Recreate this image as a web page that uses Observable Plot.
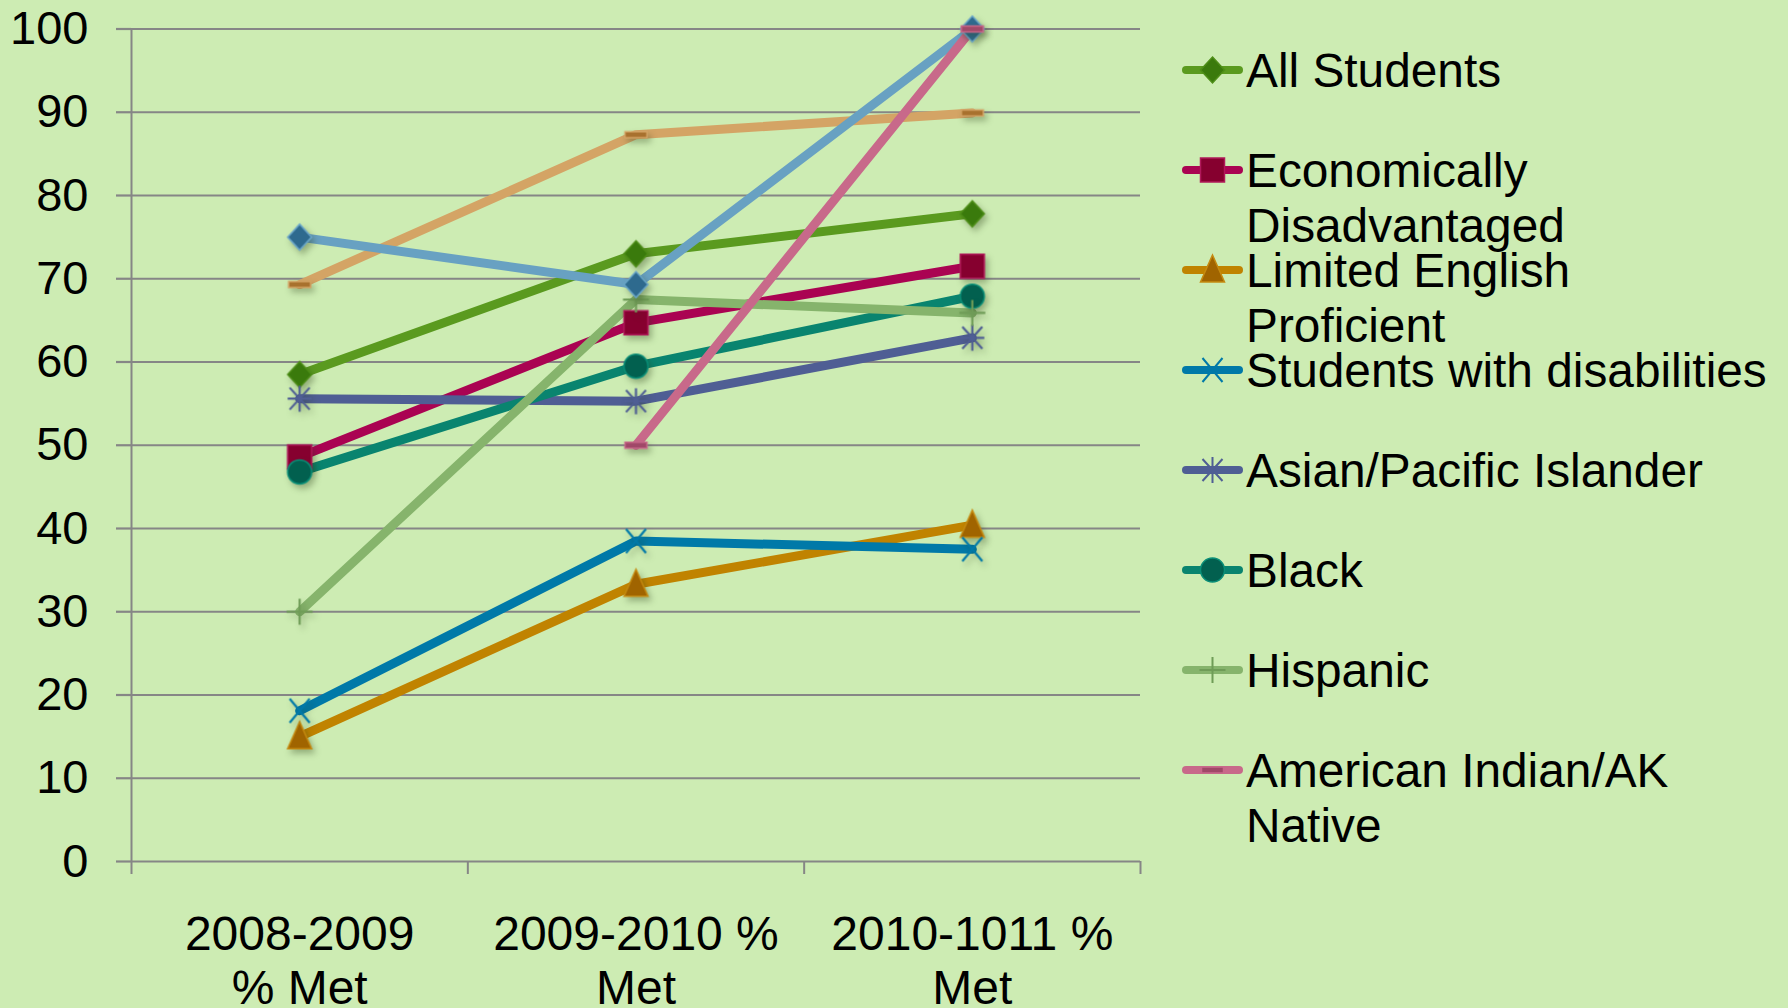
<!DOCTYPE html>
<html>
<head>
<meta charset="utf-8">
<script src="https://cdn.jsdelivr.net/npm/d3@7"></script>
<script src="https://cdn.jsdelivr.net/npm/@observablehq/plot@0.6"></script>
<style>
  html, body { margin: 0; padding: 0; background: #cdecb3; }
  #wrap { position: relative; width: 1788px; height: 1008px; background: #cdecb3; overflow: hidden;
          font-family: "Liberation Sans", Arial, sans-serif; color: #000; }
  #wrap svg.plot { position: absolute; left: 0; top: 0; }
  .lg-icon { position: absolute; }
  .lg-text { position: absolute; font-size: 47.8px; line-height: 55px; width: 528px; white-space: normal; }
</style>
</head>
<body>
<div id="wrap"></div>
<script>
// ---------------- data ----------------
const categories = ["2008-2009 % Met", "2009-2010 % Met", "2010-1011 % Met"];
const tickLabels = ["2008-2009\n% Met", "2009-2010 %\nMet", "2010-1011 %\nMet"];
const yTicks = [0, 10, 20, 30, 40, 50, 60, 70, 80, 90, 100];

const seriesNames = [
  "All Students",
  "Economically Disadvantaged",
  "Limited English Proficient",
  "Students with disabilities",
  "Asian/Pacific Islander",
  "Black",
  "Hispanic",
  "American Indian/AK Native"
];
const allStudents    = [58.5, 73.0, 77.8];
const econDisadv     = [48.6, 64.7, 71.5];
const limitedEnglish = [15.0, 33.3, 40.4];
const disabilities   = [18.1, 38.5, 37.5];
const asianPI        = [55.6, 55.3, 62.9];
const black          = [46.8, 59.5, 67.9];
const hispanic       = [30.0, 67.5, 65.9];
const amIndian       = [null, 50.0, 100.0];
// two further series whose legend entries are cut off in the original
const unlabeledBlue  = [75.0, 69.3, 100.0];
const unlabeledTan   = [69.3, 87.3, 89.9];

// ---------------- styles ----------------
const gridColor = "#868686";
const lineColors   = ["#5a9a1f", "#aa0352", "#c08300", "#0079a8", "#4f5e94", "#09846f", "#86b46c", "#c8698a", "#68a1c2", "#d4a465"];
const markerFills  = ["#3a7a0c", "#86002f", "#a06400", "none",    "none",    "#02604f", "none",    "#a04868", "#2e6a8e", "#a8712e"];
const markerStroke = ["#4e8e18", "#b0185a", "#c58a10", "#0079a8", "#4f5e94", "#0a8f78", "#6f9c57", "#c8698a", "#6aa6c8", "#d4a465"];

const symbols = {
  diamond: { draw(c) { c.moveTo(0, -13); c.lineTo(12, 0); c.lineTo(0, 13); c.lineTo(-12, 0); c.closePath(); } },
  square:  { draw(c) { c.rect(-12, -12, 24, 24); } },
  triangle:{ draw(c) { c.moveTo(0, -15); c.lineTo(12, 12); c.lineTo(-12, 12); c.closePath(); } },
  times:   { draw(c) { c.moveTo(-10, -12); c.lineTo(10, 12); c.moveTo(10, -12); c.lineTo(-10, 12); } },
  star:    { draw(c) { c.moveTo(-10, -11); c.lineTo(10, 11); c.moveTo(10, -11); c.lineTo(-10, 11); c.moveTo(0, -13); c.lineTo(0, 13); c.moveTo(-12, 0); c.lineTo(12, 0); } },
  circle:  { draw(c) { c.moveTo(12, 0); c.arc(0, 0, 12, 0, 2 * Math.PI); } },
  plus:    { draw(c) { c.moveTo(0, -13); c.lineTo(0, 13); c.moveTo(-13, 0); c.lineTo(13, 0); } },
  dash:    { draw(c) { c.rect(-11, -3, 22, 6); } }
};
const markerSymbols = ["diamond", "square", "triangle", "times", "star", "circle", "plus", "dash", "diamond", "dash"];
const strokeOnly = new Set(["times", "star", "plus"]);

// ---------------- build ----------------
const allValues = [allStudents, econDisadv, limitedEnglish, disabilities, asianPI, black, hispanic, amIndian, unlabeledBlue, unlabeledTan];
const names = [...seriesNames, "(unlabeled 1)", "(unlabeled 2)"];
const series = allValues.map((vals, k) => ({
  name: names[k],
  k,
  rows: vals.map((v, i) => ({ name: names[k], i, cat: categories[i], v })).filter(d => d.v != null)
}));
// drawing order as in the original
const drawOrder = [0, 1, 2, 3, 4, 5, 6, 9, 8, 7];

function dotMark(s) {
  const sy = markerSymbols[s.k];
  const so = strokeOnly.has(sy);
  return Plot.dot(s.rows, {
    x: "i", y: "v", symbol: symbols[sy],
    fill: so ? "none" : markerFills[s.k],
    stroke: markerStroke[s.k],
    strokeWidth: so ? 2.2 : 1.5
  });
}

const chart = Plot.plot({
  width: 1788,
  height: 1008,
  marginLeft: 131,
  marginRight: 648,
  marginTop: 28.5,
  marginBottom: 147,
  x: { domain: [-0.5, 2.5] },
  y: { domain: [0, 100] },
  style: { background: "transparent", fontFamily: "'Liberation Sans', Arial, sans-serif", color: "#000", overflow: "visible" },
  marks: [
    Plot.ruleY(yTicks, { stroke: gridColor, strokeWidth: 2.2 }),
    Plot.ruleX([-0.5], { stroke: gridColor, strokeWidth: 2 }),
    Plot.axisY({ ticks: yTicks, tickSize: 15, tickPadding: 28, fontSize: 47, stroke: gridColor, strokeWidth: 2.2, fill: "#000", label: null, tickFormat: d => String(d) }),
    Plot.axisX({ ticks: [-0.5, 0.5, 1.5, 2.5], tickSize: 13, tickFormat: () => "", stroke: gridColor, strokeWidth: 2, label: null }),
    Plot.axisX({ ticks: [0, 1, 2], tickSize: 0, tickPadding: 50, fontSize: 48, lineHeight: 1.125, fill: "#000", tickFormat: i => tickLabels[i], label: null }),
    ...drawOrder.map(k => Plot.line(series[k].rows, {
      x: "i", y: "v", stroke: lineColors[k], strokeWidth: 9, strokeLinejoin: "round", strokeLinecap: "round"
    })),
    ...drawOrder.map(k => dotMark(series[k]))
  ]
});
chart.classList.add("plot");
const wrap = document.getElementById("wrap");
wrap.appendChild(chart);

// soft marker shadows like the original
d3.select(chart).selectAll("g[aria-label='dot']")
  .style("filter", "drop-shadow(3px 4px 3px rgba(40,60,20,0.35))");

// ---------------- legend ----------------
seriesNames.forEach((name, k) => {
  const cy = 70 + 100 * k;
  const svg = d3.select(wrap).append("svg")
    .attr("class", "lg-icon")
    .attr("width", 80).attr("height", 40)
    .style("left", "1176px").style("top", (cy - 20) + "px");
  svg.append("line")
    .attr("x1", 10).attr("x2", 63).attr("y1", 20).attr("y2", 20)
    .attr("stroke", lineColors[k]).attr("stroke-width", 8).attr("stroke-linecap", "round");
  const sy = markerSymbols[k];
  const so = strokeOnly.has(sy);
  svg.append("path")
    .attr("transform", "translate(36.5,20)")
    .attr("d", d3.symbol().type(symbols[sy])())
    .attr("fill", so ? "none" : markerFills[k])
    .attr("stroke", markerStroke[k])
    .attr("stroke-width", so ? 2 : 1.5);
  d3.select(wrap).append("div")
    .attr("class", "lg-text")
    .style("left", "1246px").style("top", (cy - 26.6) + "px")
    .text(name);
});
</script>
</body>
</html>
